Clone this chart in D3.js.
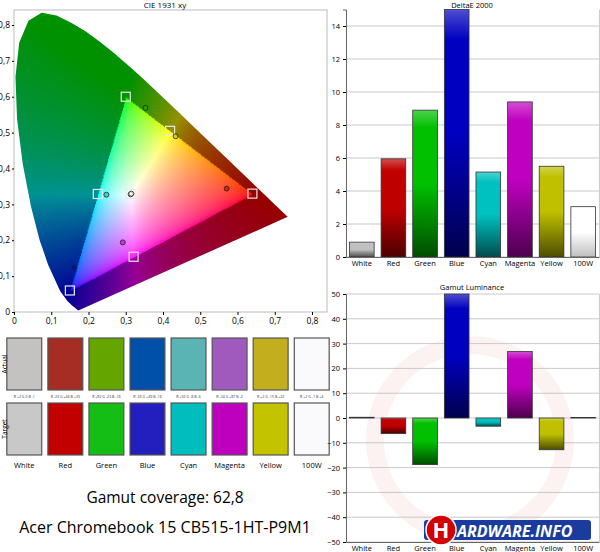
<!DOCTYPE html>
<html><head><meta charset="utf-8">
<script src="https://cdn.jsdelivr.net/npm/d3@7"></script>
<style>body{margin:0;background:#fff}text{font-family:"Open Sans",sans-serif}</style>
</head><body>
<svg id="c" width="600" height="552"></svg>
<script>
const categories = ['White','Red','Green','Blue','Cyan','Magenta','Yellow','100W']
const deltaE = [0.9, 5.95, 8.9, 15, 5.15, 9.4, 5.5, 3.05]
const luminance = [0.3, -6.3, -18.8, 50, -3.3, 26.8, -12.8, 0.2]
const barColors = ['#c0c0c0','#c00000','#00c000','#0000c0','#00c0c0','#c000c0','#c0c000','#ffffff']
const actualColors = ['#c3c2c0','#a52d23','#64a500','#0050aa','#5ab4b4','#a05abe','#c3af1e','#fafafc']
const targetColors = ['#c8c8c8','#c30000','#14be14','#231ebe','#00bebe','#be00be','#c3c300','#fafafc']
const diffLabels = ['R +2 G 0 B -1','R -23 G +46 B +33','R +82 G -23 B -18','R -33 G +49 B -16','R +92 G -8 B -6','R -24 G +87 B -2','R +2 G -15 B +22','R +2 G -1 B +4']
const targetXY = [[0.3127,0.329],[0.64,0.33],[0.30,0.60],[0.15,0.06],[0.225,0.329],[0.321,0.154],[0.419,0.505]]
const measuredXY = [[0.313,0.328],[0.571,0.344],[0.353,0.569],[0.162,0.123],[0.248,0.327],[0.292,0.194],[0.434,0.490],[0.315,0.330]]
const measuredColors = ['#ffffff','#c00000','#00c000','#0000c0','#00c0c0','#c000c0','#c0c000','#ffffff']
const ciexTicks = [0,0.1,0.2,0.3,0.4,0.5,0.6,0.7,0.8]
// CIE 1931 spectral locus, 380..700nm
const locus = [[0.1741,0.0050],[0.1738,0.0049],[0.1733,0.0048],[0.1726,0.0048],[0.1714,0.0051],[0.1689,0.0069],[0.1644,0.0109],[0.1566,0.0177],[0.1440,0.0297],[0.1241,0.0578],[0.0913,0.1327],[0.0687,0.2007],[0.0454,0.2950],[0.0235,0.4127],[0.0082,0.5384],[0.0039,0.6548],[0.0139,0.7502],[0.0389,0.8120],[0.0743,0.8338],[0.1142,0.8262],[0.1547,0.8059],[0.1929,0.7816],[0.2296,0.7543],[0.2658,0.7243],[0.3016,0.6923],[0.3373,0.6589],[0.3731,0.6245],[0.4087,0.5896],[0.4441,0.5547],[0.4788,0.5202],[0.5125,0.4866],[0.5448,0.4544],[0.5752,0.4242],[0.6029,0.3965],[0.6270,0.3725],[0.6482,0.3514],[0.6658,0.3340],[0.6801,0.3197],[0.6915,0.3083],[0.7006,0.2993],[0.7079,0.2920],[0.7140,0.2859],[0.7190,0.2809],[0.7230,0.2770],[0.7260,0.2740],[0.7283,0.2717],[0.7300,0.2700],[0.7311,0.2689],[0.7320,0.2680],[0.7327,0.2673],[0.7334,0.2666],[0.7340,0.2660],[0.7344,0.2656],[0.7346,0.2654],[0.7347,0.2653]]

const svg = d3.select('#c')
const defs = svg.append('defs')

// ---- CIE diagram ----
const cx = d3.scaleLinear().domain([0, 0.8]).range([14, 312])
const cy = d3.scaleLinear().domain([0, 0.8]).range([312, 25])
svg.append('rect').attr('x', 14).attr('y', 10).attr('width', 313).attr('height', 302)
  .attr('fill', 'none').attr('stroke', '#bbb')
svg.append('text').attr('x', 165).attr('y', 8).attr('text-anchor', 'middle').attr('font-size', 8).text('CIE 1931 xy')

// raster fill of the diagram
const cw = 300, ch = 300
const canvas = document.createElement('canvas')
canvas.width = cw; canvas.height = ch
const ctx = canvas.getContext('2d')
const img = ctx.createImageData(cw, ch)
const gam = v => v <= 0.0031308 ? 12.92 * v : 1.055 * Math.pow(v, 1 / 2.4) - 0.055
for (let j = 0; j < ch; j++) for (let i = 0; i < cw; i++) {
  const x = 0.75 * i / cw, y = 0.85 * (1 - j / ch) + 0.001
  const X = x / y, Z = (1 - x - y) / y
  let r = 3.2406 * X - 1.5372 - 0.4986 * Z
  let g = -0.9689 * X + 1.8758 + 0.0415 * Z
  let b = 0.0557 * X - 0.2040 + 1.0570 * Z
  const out = r < 0 || g < 0 || b < 0
  r = Math.max(r, 0); g = Math.max(g, 0); b = Math.max(b, 0)
  const m = Math.max(r, g, b) || 1
  const k = (j * cw + i) * 4
  if (out) {
    // outside the gamut: darker
    img.data[k] = 150 * Math.pow(r / m, 0.8)
    img.data[k + 1] = 145 * Math.pow(g / m, 0.8)
    img.data[k + 2] = 150 * Math.pow(b / m, 0.8)
  } else {
    img.data[k] = 255 * gam(r / m)
    img.data[k + 1] = 255 * gam(g / m)
    img.data[k + 2] = 255 * gam(b / m)
  }
  img.data[k + 3] = 255
}
ctx.putImageData(img, 0, 0)
const line = d3.line().x(d => cx(d[0])).y(d => cy(d[1]))
defs.append('clipPath').attr('id', 'locus').append('path').attr('d', line(locus) + 'Z')
svg.append('image').attr('href', canvas.toDataURL())
  .attr('x', cx(0)).attr('y', cy(0.85)).attr('width', cx(0.75) - cx(0)).attr('height', cy(0) - cy(0.85))
  .attr('preserveAspectRatio', 'none').attr('clip-path', 'url(#locus)')

svg.append('g').attr('transform', 'translate(0,312)')
  .call(d3.axisBottom(cx).tickValues(ciexTicks).tickSize(3))
  .call(g => g.select('.domain').remove())
  .call(g => g.selectAll('text').attr('font-size', 8.5).text(d => String(d).replace('.', ',')))
svg.append('g').attr('transform', 'translate(14,0)')
  .call(d3.axisLeft(cy).tickValues(ciexTicks).tickSize(2).tickPadding(2))
  .call(g => g.select('.domain').remove())
  .call(g => g.selectAll('text').attr('font-size', 8.5).text(d => String(d).replace('.', ',')))

svg.append('g').selectAll('rect').data(targetXY).join('rect')
  .attr('x', d => cx(d[0]) - 4.5).attr('y', d => cy(d[1]) - 4.5).attr('width', 9).attr('height', 9)
  .attr('fill', 'none').attr('stroke', '#e8e8e8').attr('stroke-width', 1.2)
svg.append('g').selectAll('circle').data(measuredXY).join('circle')
  .attr('cx', d => cx(d[0])).attr('cy', d => cy(d[1])).attr('r', 2.5)
  .attr('fill', (d, i) => measuredColors[i]).attr('fill-opacity', 0.6).attr('stroke', '#222').attr('stroke-width', 0.8)

// ---- swatches ----
const sx = d3.scaleBand().domain(categories).range([6, 330]).paddingInner(0.15).paddingOuter(0.02)
const sw = svg.append('g')
sw.selectAll('.a').data(categories).join('rect')
  .attr('x', d => sx(d)).attr('y', 338).attr('width', sx.bandwidth()).attr('height', 52)
  .attr('fill', (d, i) => actualColors[i]).attr('stroke', '#555').attr('stroke-width', 1.2)
sw.selectAll('.t').data(categories).join('rect').attr('class', 't')
  .attr('x', d => sx(d)).attr('y', 403).attr('width', sx.bandwidth()).attr('height', 52)
  .attr('fill', (d, i) => targetColors[i]).attr('stroke', '#555').attr('stroke-width', 1.2)
sw.selectAll('.d').data(diffLabels).join('text')
  .attr('x', (d, i) => sx(categories[i]) + sx.bandwidth() / 2).attr('y', 398)
  .attr('text-anchor', 'middle').attr('font-size', 3.6).attr('fill', '#333').text(d => d)
sw.selectAll('.l').data(categories).join('text')
  .attr('x', d => sx(d) + sx.bandwidth() / 2).attr('y', 468)
  .attr('text-anchor', 'middle').attr('font-size', 7.5).text(d => d)
sw.append('text').attr('transform', 'translate(7,364) rotate(-90)').attr('text-anchor', 'middle').attr('font-size', 6.5).text('Actual')
sw.append('text').attr('transform', 'translate(7,429) rotate(-90)').attr('text-anchor', 'middle').attr('font-size', 6.5).text('Target')

svg.append('text').attr('x', 165).attr('y', 503).attr('text-anchor', 'middle').attr('font-size', 15.5).text('Gamut coverage: 62,8')
svg.append('text').attr('x', 165).attr('y', 533).attr('text-anchor', 'middle').attr('font-size', 16).text('Acer Chromebook 15 CB515-1HT-P9M1')

// ---- bar charts ----
barColors.forEach((c, i) => {
  const gr = defs.append('linearGradient').attr('id', 'bg' + i).attr('x1', 0).attr('x2', 0).attr('y1', 0).attr('y2', 1)
  gr.append('stop').attr('offset', 0).attr('stop-color', d3.interpolateRgb(c, '#fff')(0.3))
  gr.append('stop').attr('offset', 0.12).attr('stop-color', c)
  gr.append('stop').attr('offset', 0.5).attr('stop-color', c)
  gr.append('stop').attr('offset', 1).attr('stop-color', d3.interpolateRgb(c, '#000')(i === 7 ? 0.25 : 0.6))
})

const bx = d3.scaleBand().domain(categories).range([346, 599]).paddingInner(0.22).paddingOuter(0.11)

function barChart(title, values, domain, ticks, top, bottom, titleY) {
  const y = d3.scaleLinear().domain(domain).range([bottom, top])
  const g = svg.append('g')
  g.append('text').attr('x', 472).attr('y', titleY).attr('text-anchor', 'middle').attr('font-size', 7.5).text(title)
  g.append('g').selectAll('line').data(ticks).join('line')
    .attr('x1', 346).attr('x2', 599).attr('y1', d => y(d)).attr('y2', d => y(d))
    .attr('stroke', '#bbb').attr('stroke-width', 0.8)
  g.append('g').selectAll('rect').data(values).join('rect')
    .attr('x', (d, i) => bx(categories[i])).attr('width', bx.bandwidth())
    .attr('y', d => y(Math.max(0, Math.min(d, domain[1]))))
    .attr('height', d => Math.abs(y(Math.min(d, domain[1])) - y(0)))
    .attr('fill', (d, i) => `url(#bg${i})`).attr('stroke', '#333').attr('stroke-width', 0.8)
  g.append('g').attr('transform', 'translate(346,0)')
    .call(d3.axisLeft(y).tickValues(ticks).tickSize(3))
    .call(a => a.selectAll('text').attr('font-size', 7.5))
    .call(a => a.select('.domain').attr('stroke', '#666'))
  g.append('g').attr('transform', `translate(0,${bottom})`)
    .call(d3.axisBottom(bx).tickSize(0).tickPadding(4))
    .call(a => a.selectAll('text').attr('font-size', 7.5))
    .call(a => a.select('.domain').attr('stroke', '#666'))
  g.append('line').attr('x1', 599.5).attr('x2', 599.5).attr('y1', top).attr('y2', bottom).attr('stroke', '#ccc')
  return y
}

// watermark behind second chart
const wm = svg.append('g').attr('opacity', 0.05)
wm.append('circle').attr('cx', 470).attr('cy', 440).attr('r', 95).attr('fill', 'none').attr('stroke', '#c00').attr('stroke-width', 18)

barChart('DeltaE 2000', deltaE, [0, 15], [0, 2, 4, 6, 8, 10, 12, 14], 9.5, 257, 7.5)
barChart('Gamut Luminance', luminance, [-50, 50], d3.range(-50, 51, 10), 294, 542, 290)

// logo
const logo = svg.append('g')
logo.append('rect').attr('x', 424).attr('y', 520).attr('width', 167).attr('height', 20).attr('rx', 3).attr('fill', '#1a3c9e')
logo.append('circle').attr('cx', 441).attr('cy', 530).attr('r', 15).attr('fill', '#d40000').attr('stroke', '#fff').attr('stroke-width', 1.5)
logo.append('text').attr('x', 441).attr('y', 538).attr('text-anchor', 'middle').attr('font-size', 22).attr('font-weight', 'bold').attr('fill', '#fff').text('H')
logo.append('text').attr('x', 457).attr('y', 537).attr('font-size', 16).attr('font-weight', 'bold').attr('font-style', 'italic').attr('fill', '#fff').text('ARDWARE.INFO')
</script>
</body></html>
